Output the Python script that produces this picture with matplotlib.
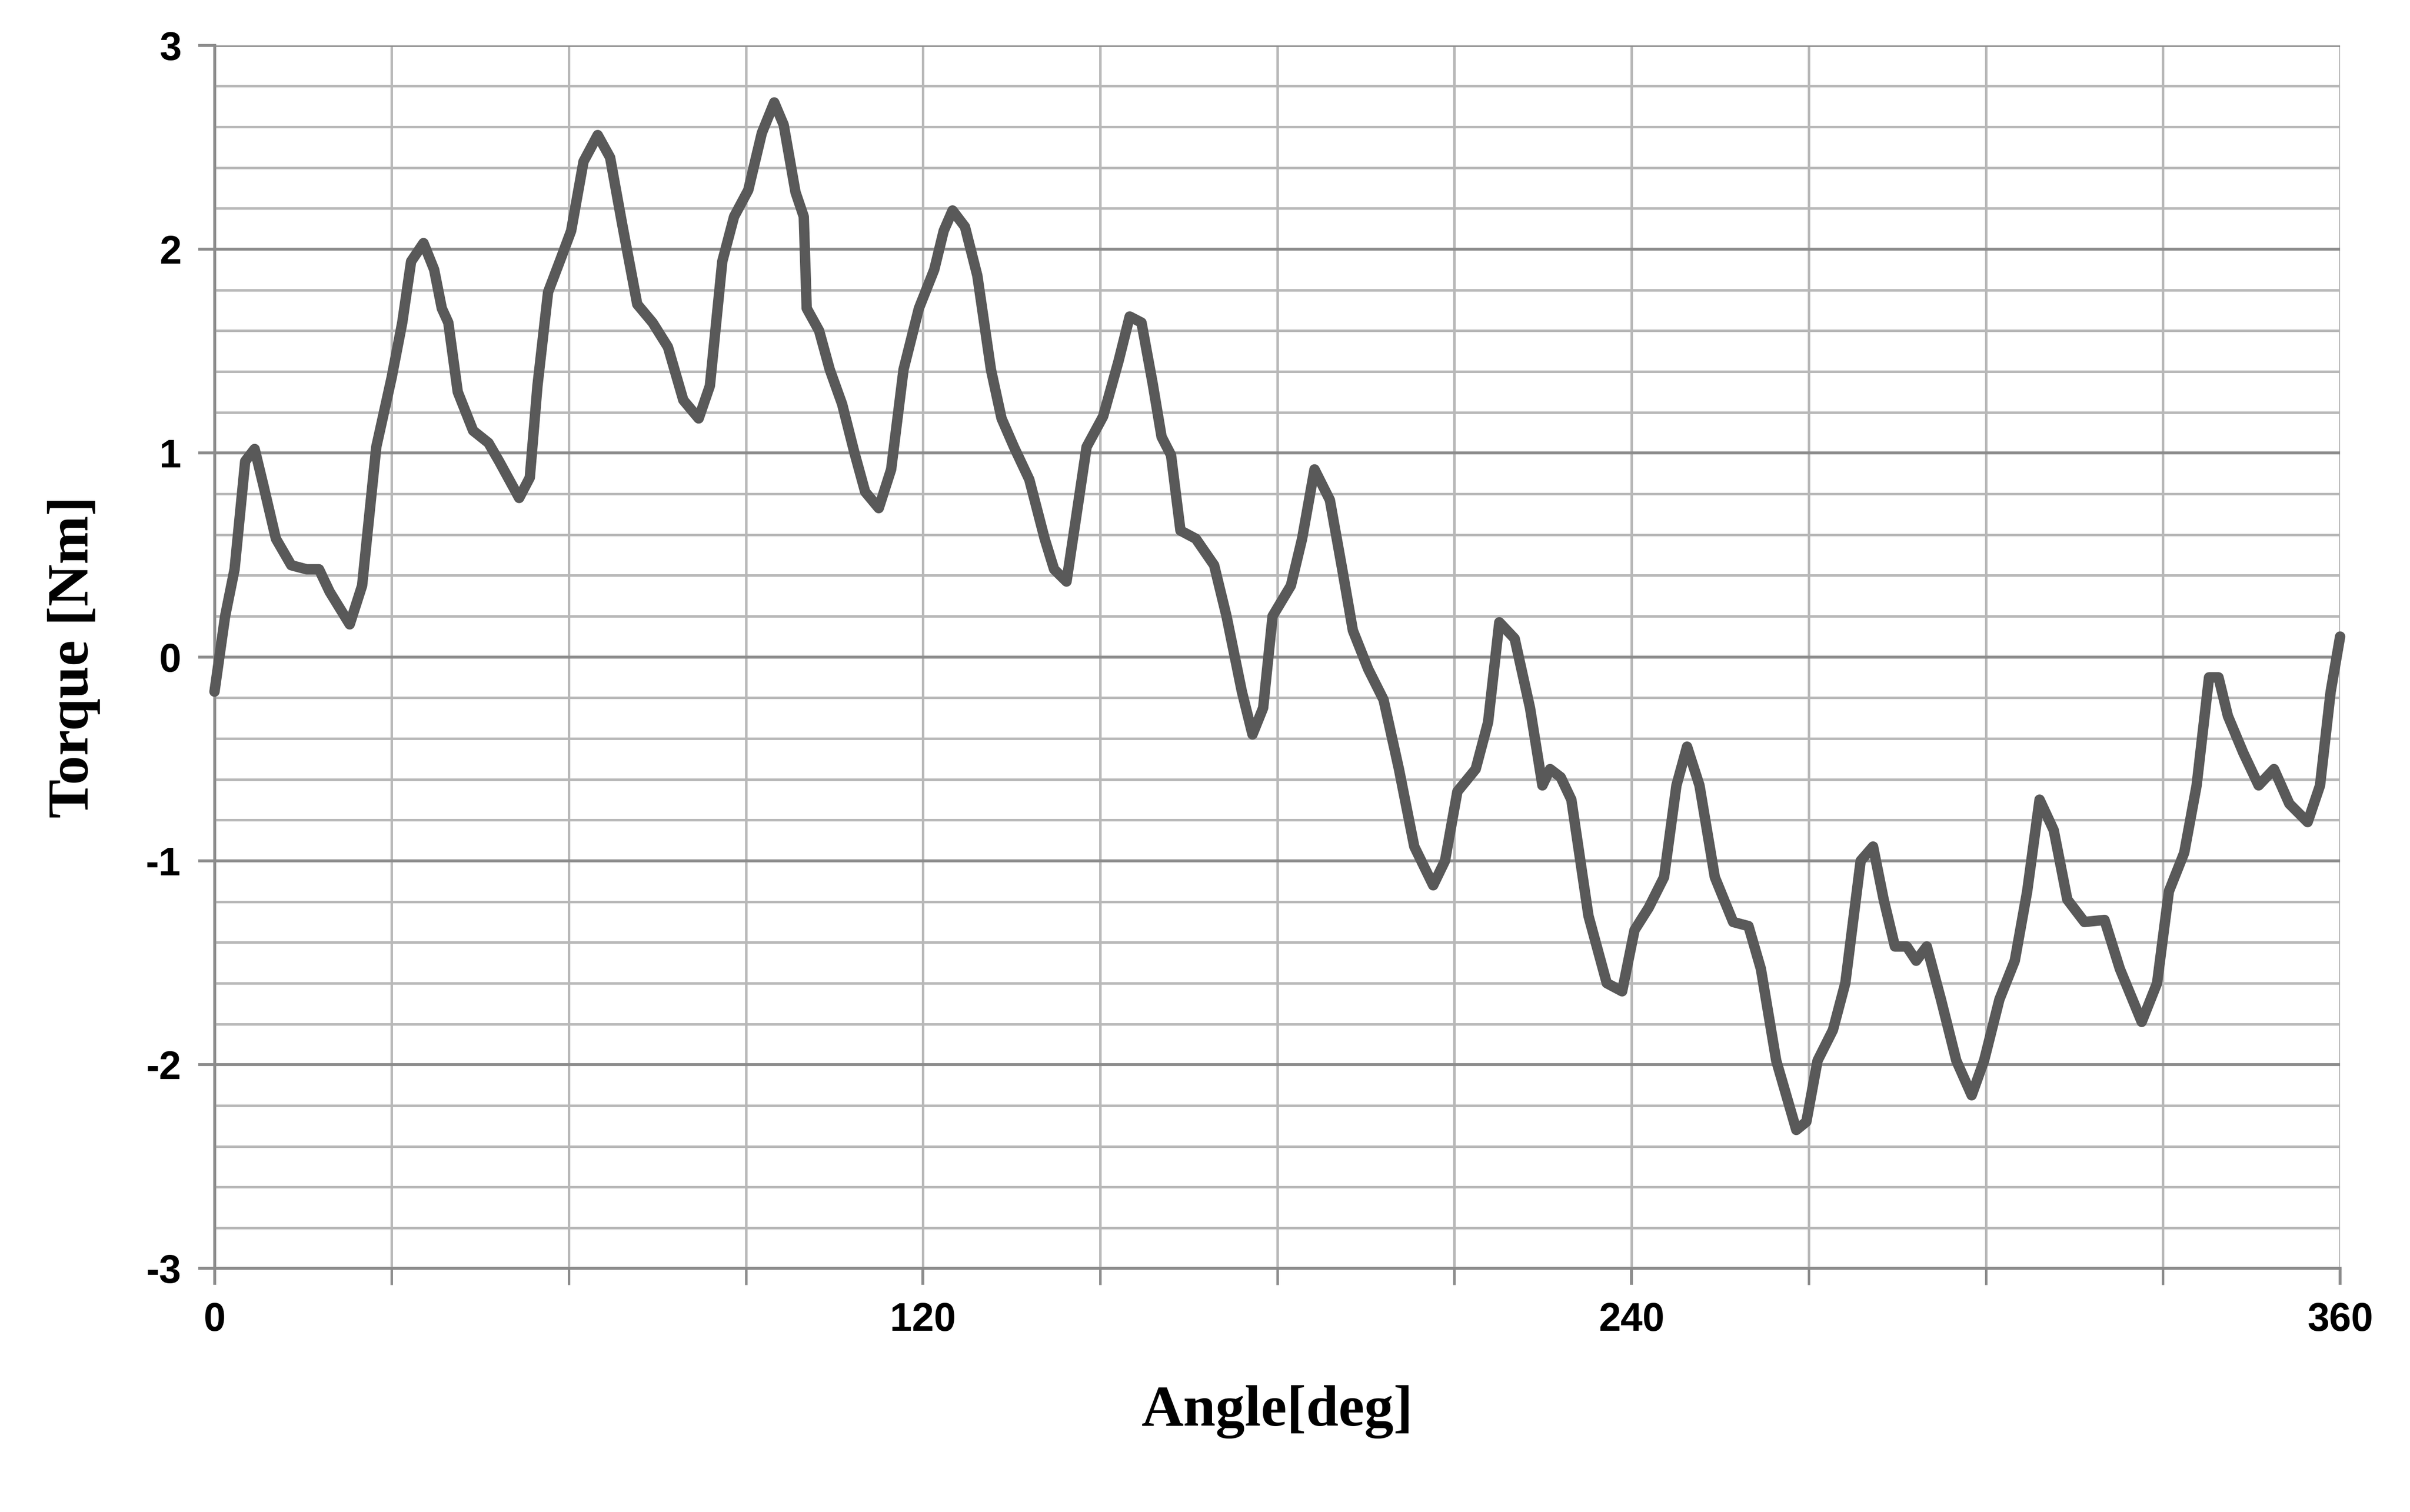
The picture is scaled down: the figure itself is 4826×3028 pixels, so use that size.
import numpy as np
import matplotlib.pyplot as plt

# angle [deg] and torque [Nm]
angle = [0, 1.8, 3.4, 5.2, 6.8, 8.3, 10.4, 13, 15.6, 17.7, 19.5, 22.9, 25, 27.4, 30, 31.8, 33.3, 35.4,
         37.2, 38.5, 39.6, 41.2, 43.8, 46.4, 48.2, 51.6, 53.4, 54.7, 56.5, 58.6, 60.4, 62.5, 64.9, 67,
         69, 71.6, 74.2, 76.8, 79.4, 82, 83.9, 86, 88, 90.4, 92.7, 94.8, 96.4, 98.4, 99.8, 100.3, 102.4,
         104.2, 106.3, 108.4, 110.2, 112.5, 114.6, 116.7, 119.3, 121.9, 123.5, 125, 127.1, 129.2, 131.5,
         133.3, 135.4, 138, 140.6, 142.2, 144.3, 145.8, 147.7, 150.5, 153.1, 155, 157, 158.9, 160.4, 162,
         163.6, 166.2, 169.3, 171.4, 174, 175.8, 177.6, 179.2, 182.3, 184.2, 186.3, 188.9, 191, 192.8,
         195.4, 198, 200.6, 203.2, 206.4, 208.4, 210.5, 213.6, 215.7, 217.6, 220.2, 222.8, 224.9, 226.2,
         228, 229.8, 232.7, 235.8, 238.4, 240.5, 242.9, 245.5, 247.6, 249.4, 251.5, 254.1, 257.2, 259.8,
         261.9, 264.5, 267.9, 269.6, 271.5, 274.1, 276.2, 278.8, 280.9, 282.7, 284.6, 286.6, 288.2, 290,
         292.4, 295, 297.6, 299.7, 302.3, 304.9, 307, 309.1, 311.5, 313.8, 316.7, 320.1, 322.7, 326.4,
         329, 331, 333.6, 335.7, 337.8, 339.4, 341, 343.6, 346.2, 348.8, 351.4, 354.5, 356.6, 358.4, 360]
torque = [-0.17, 0.2, 0.43, 0.96, 1.02, 0.84, 0.58, 0.45, 0.43, 0.43, 0.32, 0.16, 0.35, 1.03, 1.37, 1.64,
          1.94, 2.03, 1.9, 1.71, 1.64, 1.3, 1.11, 1.05, 0.96, 0.78, 0.88, 1.33, 1.79, 1.95, 2.09, 2.43,
          2.56, 2.45, 2.13, 1.73, 1.64, 1.52, 1.26, 1.17, 1.33, 1.94, 2.16, 2.29, 2.57, 2.72, 2.61, 2.28,
          2.16, 1.71, 1.6, 1.41, 1.24, 1.0, 0.81, 0.73, 0.92, 1.41, 1.71, 1.9, 2.09, 2.19, 2.11, 1.87,
          1.41, 1.17, 1.03, 0.87, 0.58, 0.43, 0.37, 0.66, 1.03, 1.18, 1.45, 1.67, 1.64, 1.34, 1.08, 0.99,
          0.62, 0.58, 0.45, 0.2, -0.17, -0.38, -0.25, 0.2, 0.35, 0.58, 0.92, 0.77, 0.43, 0.13, -0.06,
          -0.21, -0.55, -0.93, -1.12, -1.0, -0.66, -0.55, -0.32, 0.17, 0.09, -0.25, -0.63, -0.55, -0.59,
          -0.7, -1.27, -1.6, -1.64, -1.34, -1.23, -1.08, -0.63, -0.44, -0.63, -1.08, -1.3, -1.32, -1.53,
          -1.98, -2.32, -2.28, -1.98, -1.83, -1.6, -1.0, -0.93, -1.19, -1.42, -1.42, -1.49, -1.42, -1.68,
          -1.98, -2.15, -1.98, -1.68, -1.49, -1.15, -0.7, -0.85, -1.19, -1.3, -1.29, -1.53, -1.79, -1.6,
          -1.15, -0.96, -0.63, -0.1, -0.1, -0.29, -0.47, -0.63, -0.55, -0.72, -0.81, -0.63, -0.17, 0.1]

fig = plt.figure(figsize=(4826 / 300, 3028 / 300), dpi=300)
ax = fig.add_axes([0.089, 0.161, 0.882, 0.809])

ax.plot(angle, torque, color='#595959', linewidth=5, solid_joinstyle='round',
        solid_capstyle='round', zorder=5, clip_on=False)

ax.set_xlim(0, 360)
ax.set_ylim(-3, 3)
ax.set_xticks(np.arange(0, 361, 120))
ax.set_xticks(np.arange(0, 361, 30), minor=True)
ax.set_yticks(np.arange(-3, 4, 1))
ax.set_yticks(np.arange(-3, 3.01, 0.2), minor=True)

ax.grid(True, which='minor', color='#b8b8b8', linewidth=1.2)
ax.grid(True, which='major', axis='y', color='#8c8c8c', linewidth=1.4)
ax.grid(True, which='major', axis='x', color='#b8b8b8', linewidth=1.2)
ax.set_axisbelow(True)

for s in ['top', 'right']:
    ax.spines[s].set_visible(False)
for s in ['left', 'bottom']:
    ax.spines[s].set_color('#8c8c8c')
    ax.spines[s].set_linewidth(1.4)

ax.tick_params(which='major', length=8, width=1.4, color='#8c8c8c', pad=8)
ax.tick_params(which='minor', axis='y', length=0)
ax.tick_params(which='minor', axis='x', length=8, width=1.2, color='#8c8c8c')
for lab in ax.get_xticklabels() + ax.get_yticklabels():
    lab.set_fontfamily('Liberation Sans')
    lab.set_fontweight('bold')
    lab.set_fontsize(19)
ax.set_yticklabels([str(v) for v in range(-3, 4)])

ax.set_xlabel('Angle[deg]', fontfamily='Liberation Serif', fontweight='bold', fontsize=28, labelpad=22)
ax.set_ylabel('Torque [Nm]', fontfamily='Liberation Serif', fontweight='bold', fontsize=28, labelpad=22)
for lab in ax.get_yticklabels():
    lab.set_fontfamily('Liberation Sans')
    lab.set_fontweight('bold')
    lab.set_fontsize(19)

fig.savefig('out.png', dpi=300)
